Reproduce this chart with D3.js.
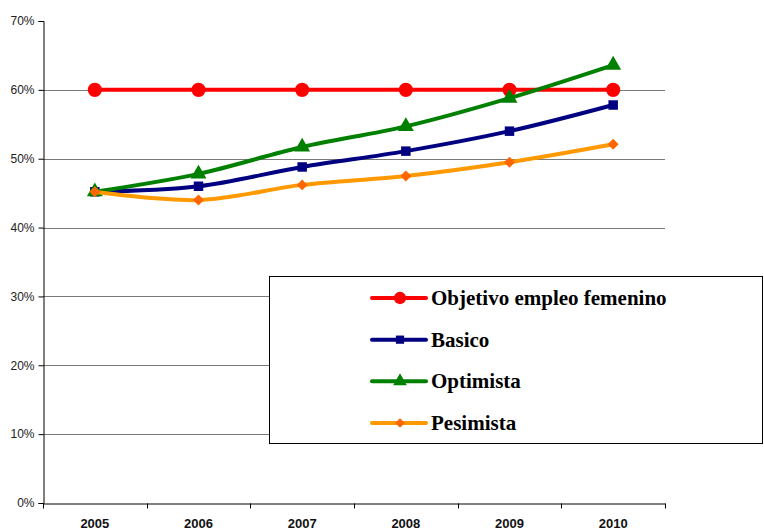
<!DOCTYPE html>
<html lang="es">
<head>
    <meta charset="UTF-8">
    <title>Empleo femenino</title>
    <script src="https://d3js.org/d3.v7.min.js"></script>
    <style>
        body { margin: 0; background: #fff; }
    </style>
</head>
<body>
<script>
    const years = ['2005', '2006', '2007', '2008', '2009', '2010'];
    const objetivo = [60, 60, 60, 60, 60, 60];
    const basico = [45.2, 46.0, 48.8, 51.1, 54.0, 57.8];
    const optimista = [45.2, 47.8, 51.7, 54.7, 58.8, 63.6];
    const pesimista = [45.2, 44.0, 46.2, 47.5, 49.5, 52.1];
    const yTicks = [0, 10, 20, 30, 40, 50, 60, 70];

    const sans = '"Liberation Sans", Arial, sans-serif';
    const serif = '"Liberation Serif", "Times New Roman", serif';

    const series = [
        { name: 'Objetivo empleo femenino', values: objetivo, color: '#ff0000', marker: '#ff0000', symbol: d3.symbolCircle, size: 160, rot: 0 },
        { name: 'Basico', values: basico, color: '#000080', marker: '#000080', symbol: d3.symbolSquare, size: 90, rot: 0 },
        { name: 'Optimista', values: optimista, color: '#008000', marker: '#008000', symbol: d3.symbolTriangle, size: 110, rot: 0 },
        { name: 'Pesimista', values: pesimista, color: '#ff9900', marker: '#ff6600', symbol: d3.symbolSquare, size: 60, rot: 45 }
    ];

    const svg = d3.select('body').append('svg')
        .attr('width', 764)
        .attr('height', 530);

    const x = d3.scaleBand()
        .domain(years)
        .range([43, 665]);

    const y = d3.scaleLinear()
        .domain([0, 70])
        .range([503, 21]);

    // gridlines
    svg.selectAll('.grid')
        .data(yTicks.filter(t => t > 0 && t < 70))
        .enter().append('line')
        .attr('class', 'grid')
        .attr('stroke', '#7a7a7a')
        .attr('x1', 43)
        .attr('x2', 665)
        .attr('y1', d => Math.round(y(d)) + 0.5)
        .attr('y2', d => Math.round(y(d)) + 0.5);

    // y axis
    const yAxis = svg.append('g')
        .attr('transform', 'translate(43.5,0)')
        .call(d3.axisLeft(y).tickValues(yTicks).tickSize(5).tickFormat(d => d + '%'));
    yAxis.attr('font-family', sans).attr('font-size', 12);
    yAxis.select('.domain').attr('stroke', '#000');
    yAxis.selectAll('.tick line').attr('stroke', '#000');
    yAxis.selectAll('.tick text').attr('fill', '#222').attr('x', -9);

    // x axis
    const xAxis = svg.append('g')
        .attr('transform', 'translate(0,503.5)')
        .call(d3.axisBottom(x).tickSize(0).tickSizeOuter(0));
    xAxis.attr('font-family', sans).attr('font-size', 13).attr('font-weight', 'bold');
    xAxis.select('.domain').attr('stroke', '#000');
    xAxis.selectAll('.tick text').attr('fill', '#111').attr('dy', null).attr('y', 24);
    xAxis.selectAll('.sep')
        .data(years.concat(['end']))
        .enter().append('line')
        .attr('stroke', '#000')
        .attr('x1', (d, i) => Math.round(i < years.length ? x(d) : x.range()[1]) + 0.5)
        .attr('x2', (d, i) => Math.round(i < years.length ? x(d) : x.range()[1]) + 0.5)
        .attr('y1', 0)
        .attr('y2', 5);

    const cx = d => x(d) + x.bandwidth() / 2;

    const line = d3.line()
        .x((d, i) => cx(years[i]))
        .y(d => y(d))
        .curve(d3.curveCatmullRom.alpha(0.5));

    series.forEach(s => {
        svg.append('path')
            .datum(s.values)
            .attr('fill', 'none')
            .attr('stroke', s.color)
            .attr('stroke-width', 4)
            .attr('stroke-linejoin', 'round')
            .attr('d', line);
        svg.selectAll(null)
            .data(s.values)
            .enter().append('path')
            .attr('transform', (d, i) => `translate(${cx(years[i])},${y(d)}) rotate(${s.rot})`)
            .attr('d', d3.symbol().type(s.symbol).size(s.size))
            .attr('fill', s.marker);
    });

    // legend
    const leg = svg.append('g');
    leg.append('rect')
        .attr('x', 269.5)
        .attr('y', 276.5)
        .attr('width', 493)
        .attr('height', 167)
        .attr('fill', '#fff')
        .attr('stroke', '#000')
        .attr('stroke-width', 1);

    const rowY = d3.scalePoint()
        .domain(series.map(s => s.name))
        .range([298, 423]);

    series.forEach(s => {
        const g = leg.append('g').attr('transform', `translate(0,${rowY(s.name)})`);
        g.append('line')
            .attr('x1', 372).attr('x2', 426)
            .attr('stroke', s.color)
            .attr('stroke-width', 4)
            .attr('stroke-linecap', 'round');
        g.append('path')
            .attr('transform', `translate(400,0) rotate(${s.rot})`)
            .attr('d', d3.symbol().type(s.symbol).size(s.size * 0.75))
            .attr('fill', s.marker);
        g.append('text')
            .attr('x', 431)
            .attr('y', 7)
            .attr('font-family', serif)
            .attr('font-size', 21)
            .attr('font-weight', 'bold')
            .attr('fill', '#000')
            .text(s.name);
    });
</script>
</body>
</html>
